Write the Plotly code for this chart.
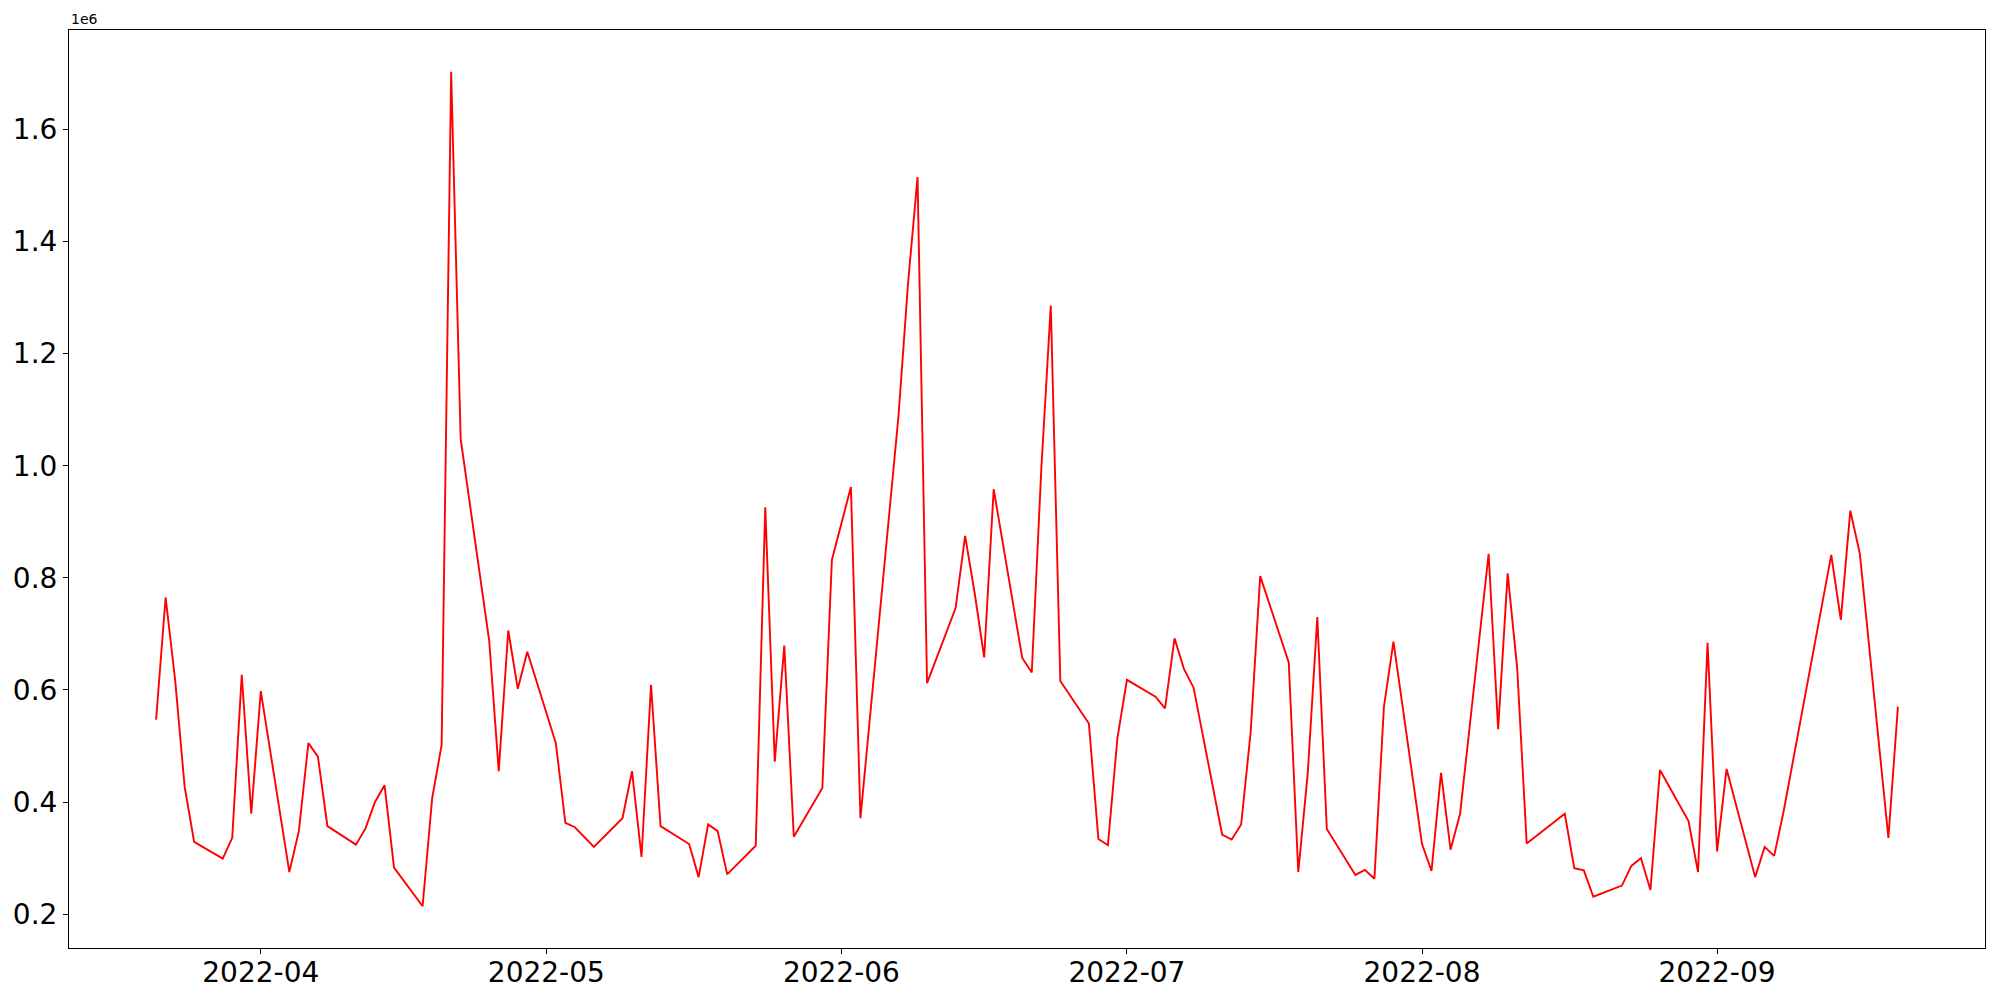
import pandas as pd
import plotly.graph_objects as go

dates = [
    "2022-03-21", "2022-03-22", "2022-03-23", "2022-03-24", "2022-03-25",
    "2022-03-28", "2022-03-29", "2022-03-30", "2022-03-31", "2022-04-01",
    "2022-04-04", "2022-04-05", "2022-04-06", "2022-04-07", "2022-04-08",
    "2022-04-11", "2022-04-12", "2022-04-13", "2022-04-14", "2022-04-15",
    "2022-04-18", "2022-04-19", "2022-04-20", "2022-04-21", "2022-04-22",
    "2022-04-25", "2022-04-26", "2022-04-27", "2022-04-28", "2022-04-29",
    "2022-05-02", "2022-05-03", "2022-05-04", "2022-05-06",
    "2022-05-09", "2022-05-10", "2022-05-11", "2022-05-12", "2022-05-13",
    "2022-05-16", "2022-05-17", "2022-05-18", "2022-05-19", "2022-05-20",
    "2022-05-23", "2022-05-24", "2022-05-25", "2022-05-26", "2022-05-27",
    "2022-05-30", "2022-05-31", "2022-06-02", "2022-06-03",
    "2022-06-07", "2022-06-08", "2022-06-09", "2022-06-10",
    "2022-06-13", "2022-06-14", "2022-06-15", "2022-06-16", "2022-06-17",
    "2022-06-20", "2022-06-21", "2022-06-22", "2022-06-23", "2022-06-24",
    "2022-06-27", "2022-06-28", "2022-06-29", "2022-06-30", "2022-07-01",
    "2022-07-04", "2022-07-05", "2022-07-06", "2022-07-07", "2022-07-08",
    "2022-07-11", "2022-07-12", "2022-07-13", "2022-07-14", "2022-07-15",
    "2022-07-18", "2022-07-19", "2022-07-20", "2022-07-21", "2022-07-22",
    "2022-07-25", "2022-07-26", "2022-07-27", "2022-07-28", "2022-07-29",
    "2022-08-01", "2022-08-02", "2022-08-03", "2022-08-04", "2022-08-05",
    "2022-08-08", "2022-08-09", "2022-08-10", "2022-08-11", "2022-08-12",
    "2022-08-16", "2022-08-17", "2022-08-18", "2022-08-19",
    "2022-08-22", "2022-08-23", "2022-08-24", "2022-08-25", "2022-08-26",
    "2022-08-29", "2022-08-30", "2022-08-31", "2022-09-01", "2022-09-02",
    "2022-09-05", "2022-09-06", "2022-09-07", "2022-09-08",
    "2022-09-13", "2022-09-14", "2022-09-15", "2022-09-16",
    "2022-09-19", "2022-09-20",
]

volume = [
    547000, 765000, 618000, 427000, 329000,
    299000, 336000, 627000, 379000, 598000,
    275000, 348000, 505000, 481000, 357000,
    324000, 353000, 400000, 430000, 283000,
    214000, 406000, 502000, 1703000, 1048000,
    687000, 455000, 706000, 602000, 668000,
    505000, 363000, 355000, 320000,
    371000, 455000, 302000, 609000, 357000,
    325000, 266000, 360000, 348000, 271000,
    322000, 926000, 472000, 679000, 338000,
    425000, 832000, 962000, 371000,
    1089000, 1325000, 1515000, 612000,
    746000, 875000, 773000, 658000, 958000,
    657000, 631000, 993000, 1286000, 616000,
    540000, 334000, 323000, 514000, 618000,
    588000, 567000, 692000, 637000, 604000,
    342000, 333000, 360000, 525000, 803000,
    649000, 275000, 452000, 730000, 352000,
    270000, 279000, 263000, 570000, 686000,
    325000, 277000, 452000, 315000, 379000,
    843000, 530000, 808000, 639000, 326000,
    379000, 282000, 278000, 231000,
    251000, 286000, 300000, 243000, 457000,
    366000, 275000, 684000, 312000, 459000,
    266000, 320000, 304000, 384000,
    841000, 725000, 920000, 843000,
    336000, 570000,
]

y_tick_values = [200000, 400000, 600000, 800000, 1000000, 1200000, 1400000, 1600000]
y_tick_labels = ["0.2", "0.4", "0.6", "0.8", "1.0", "1.2", "1.4", "1.6"]
offset_label = "1e6"

x = pd.to_datetime(dates)
x_span = x.max() - x.min()
x_range = [x.min() - 0.05 * x_span, x.max() + 0.05 * x_span]
y_span = max(volume) - min(volume)
y_range = [min(volume) - 0.05 * y_span, max(volume) + 0.05 * y_span]

fig = go.Figure()
fig.add_trace(go.Scatter(
    x=x, y=volume, mode="lines",
    line=dict(color="#ff0000", width=1.9),
    showlegend=False,
))

font_family = "DejaVu Sans"
axis_common = dict(
    showline=True, linecolor="black", linewidth=1.1, mirror=True,
    ticks="outside", ticklen=5, tickwidth=1.1, tickcolor="black",
    showgrid=False, zeroline=False, automargin=False,
    tickfont=dict(family=font_family, size=28, color="black"),
)

fig.update_layout(
    width=2000, height=1000,
    paper_bgcolor="white", plot_bgcolor="white",
    margin=dict(l=69, r=15, t=30, b=52, autoexpand=False),
    xaxis=dict(
        range=x_range, tickformat="%Y-%m", dtick="M1", tick0="2022-04-01",
        ticklabelstandoff=-6, **axis_common,
    ),
    yaxis=dict(
        range=y_range, tickmode="array", tickvals=y_tick_values,
        ticktext=y_tick_labels, ticklabelstandoff=0, **axis_common,
    ),
    annotations=[dict(
        text=offset_label, xref="paper", yref="paper", x=0, y=1,
        xanchor="left", yanchor="bottom", showarrow=False, yshift=1,
        font=dict(family=font_family, size=14, color="black"),
    )],
)

fig.write_html(
    "out.html",
    config={"displayModeBar": False},
    post_script="document.body.style.margin='0';document.body.style.padding='0';",
)
